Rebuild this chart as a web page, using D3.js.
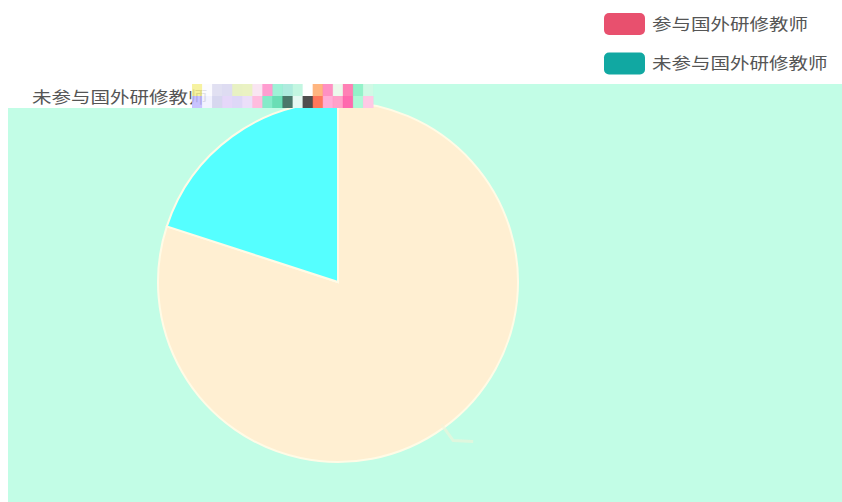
<!DOCTYPE html>
<html><head><meta charset="utf-8">
<script src="https://cdn.jsdelivr.net/npm/d3@7"></script>
<style>html,body{margin:0;padding:0;background:#fff;}svg{display:block;font-family:"Noto Sans CJK SC","Noto Sans",sans-serif;}</style>
</head><body><svg id="c" width="842" height="502"></svg>
<script>
const categories = ["参与国外研修教师", "未参与国外研修教师"];
const values = [80, 20];
const legendColors = ["#E8506E", "#11A8A2"];
const sliceColors = ["#FFEFD2", "#55FFFF"];
const glitchTop = ["#F4F090","#FAFAFF","#DCDAF0","#D8D6F0","#E4EEB8","#E6F0B8","#F8E0F0","#FF8CC8","#8EF0D0","#A0E8D8","#B8F4DC","#FFFFFF","#FFA86A","#FF7CB8","#E8F8E8","#FF6AA8","#80F0C0","#C8F8E0"];
const glitchBot = ["#C0B8FF","#F0F0FF","#D0D0EC","#E0D0F8","#D8D0F6","#E8D8F8","#FFB0D8","#70E8C0","#50D8A8","#2C6050","#E0F8F0","#303030","#FF6040","#FFA0D0","#FF90C0","#FF50A0","#A0F8D0","#FFC0E0"];

const svg = d3.select("#c");
const W = 842, H = 502;
const cx = 338, cy = 282, R = 180;

svg.append("rect").attr("x", 8).attr("y", 84).attr("width", W - 8).attr("height", H - 84).attr("fill", "#C2FDE6");

const pie = d3.pie().sort(null).value(d => d)(values);
const arc = d3.arc().innerRadius(0).outerRadius(R);
const g = svg.append("g").attr("transform", `translate(${cx},${cy})`);
g.selectAll("path.s").data(pie).join("path")
  .attr("class", "s")
  .attr("d", arc)
  .attr("fill", (d, i) => sliceColors[i])
  .attr("stroke", "#FFFBE6").attr("stroke-width", 2);

const a0 = pie[0];
const mid = (a0.startAngle + a0.endAngle) / 2;
const ps = [Math.sin(mid) * (R - 4), -Math.cos(mid) * (R - 4)];
const pm = [Math.sin(mid) * (R + 16), -Math.cos(mid) * (R + 16)];
const pe = [pm[0] + 20, pm[1] + 1];
g.append("polyline").attr("points", [ps, pm, pe].map(p => p.join(",")).join(" "))
  .attr("fill", "none").attr("stroke", "#F2F4D8").attr("stroke-width", 3).attr("opacity", 0.6);

svg.append("rect").attr("x", 0).attr("y", 84).attr("width", 373).attr("height", 24).attr("fill", "#fff");

function stretchedText(parent, x, y, txt) {
  return parent.append("text")
    .attr("transform", `translate(${x},${y}) scale(1.22,1)`)
    .attr("font-size", 16).attr("fill", "#555").text(txt);
}

stretchedText(svg, 32, 103, categories[1]);

const gx = d3.scaleBand().domain(d3.range(glitchTop.length)).range([192, 373]);
svg.selectAll("rect.gt").data(glitchTop).join("rect").attr("class", "gt")
  .attr("x", (d, i) => gx(i)).attr("y", 84).attr("width", gx.bandwidth() + 0.5).attr("height", 12).attr("fill", d => d).attr("opacity", 0.85);
svg.selectAll("rect.gb").data(glitchBot).join("rect").attr("class", "gb")
  .attr("x", (d, i) => gx(i)).attr("y", 96).attr("width", gx.bandwidth() + 0.5).attr("height", 12).attr("fill", d => d).attr("opacity", 0.85);

const lg = svg.append("g");
categories.forEach((c, i) => {
  const y = 13 + i * 39.5;
  lg.append("rect").attr("x", 604).attr("y", y).attr("width", 41).attr("height", 22).attr("rx", 5).attr("fill", legendColors[i]);
  stretchedText(lg, 652, y + 16.5, c);
});
</script></body></html>
